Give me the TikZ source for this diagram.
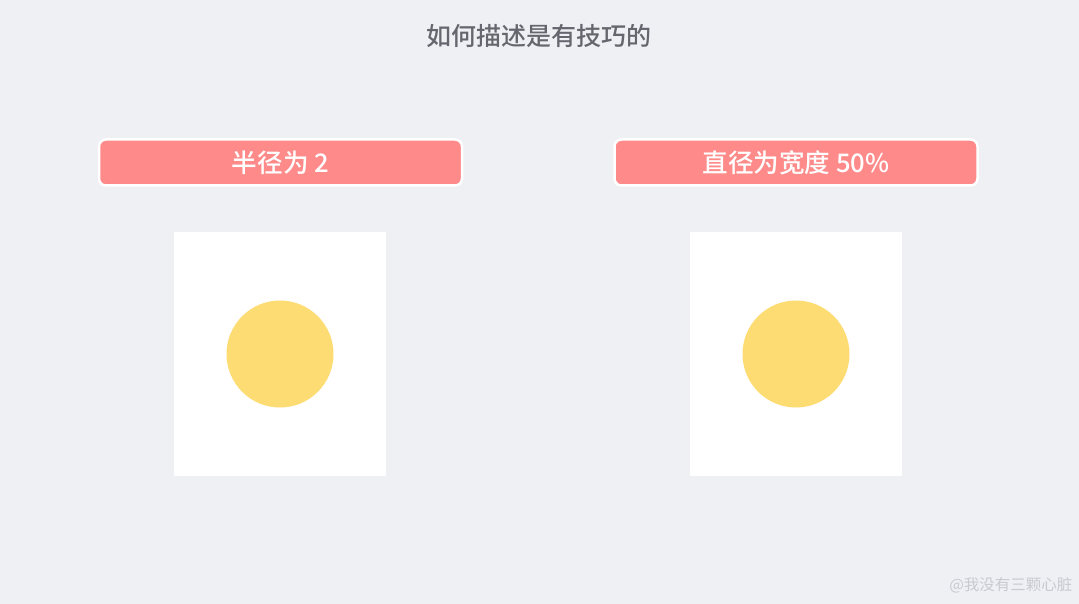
\documentclass[tikz,border=0pt]{standalone}
\usepackage{fontspec}
\newfontfamily\cjk{Noto Sans CJK SC}
\newfontfamily\cjkmed{Noto Sans CJK SC Medium}
\usetikzlibrary{positioning}
\definecolor{bg}{HTML}{EFF0F4}
\definecolor{salmon}{HTML}{FF8A8A}
\definecolor{sun}{HTML}{FDDC73}
\definecolor{titlegray}{HTML}{66666E}
\definecolor{markgray}{HTML}{C8CAD0}

\begin{document}
\begin{tikzpicture}[x=1pt,y=-1pt,
      bar/.style={fill=salmon,draw=white,line width=2.5pt,rounded corners=7pt,
        minimum width=363pt,minimum height=46pt,text=white,
        font=\cjkmed\fontsize{25.6}{25.6}\selectfont},
      canvas/.style={fill=white,minimum width=212pt,minimum height=244pt,inner sep=0pt},
      ball/.style={circle,fill=sun,minimum size=107pt,inner sep=0pt}]
      \fill[bg] (0,0) rectangle (1079,604);
      \useasboundingbox (0,0) rectangle (1079,604);
			\node[text=titlegray,font=\cjkmed\fontsize{25}{25}\selectfont] (title) at (539,36) {如何描述是有技巧的};
      \node[bar] (radius) at (280.5,162.5) {半径为 2};
      \node[bar] (diam) at (796,162.5) {直径为宽度 50\%};
      \node[canvas] (boxl) at (280,354) {};
      \node[canvas] (boxr) at (796,354) {};
      \node[ball] (sunl) at (boxl.center) {};
      \node[ball] (sunr) at (boxr.center) {};
      \node[text=markgray,font=\cjk\fontsize{15.5}{15.5}\selectfont,anchor=east] (mark) at (1076,585) {@我没有三颗心脏};
		\end{tikzpicture}
\end{document}
